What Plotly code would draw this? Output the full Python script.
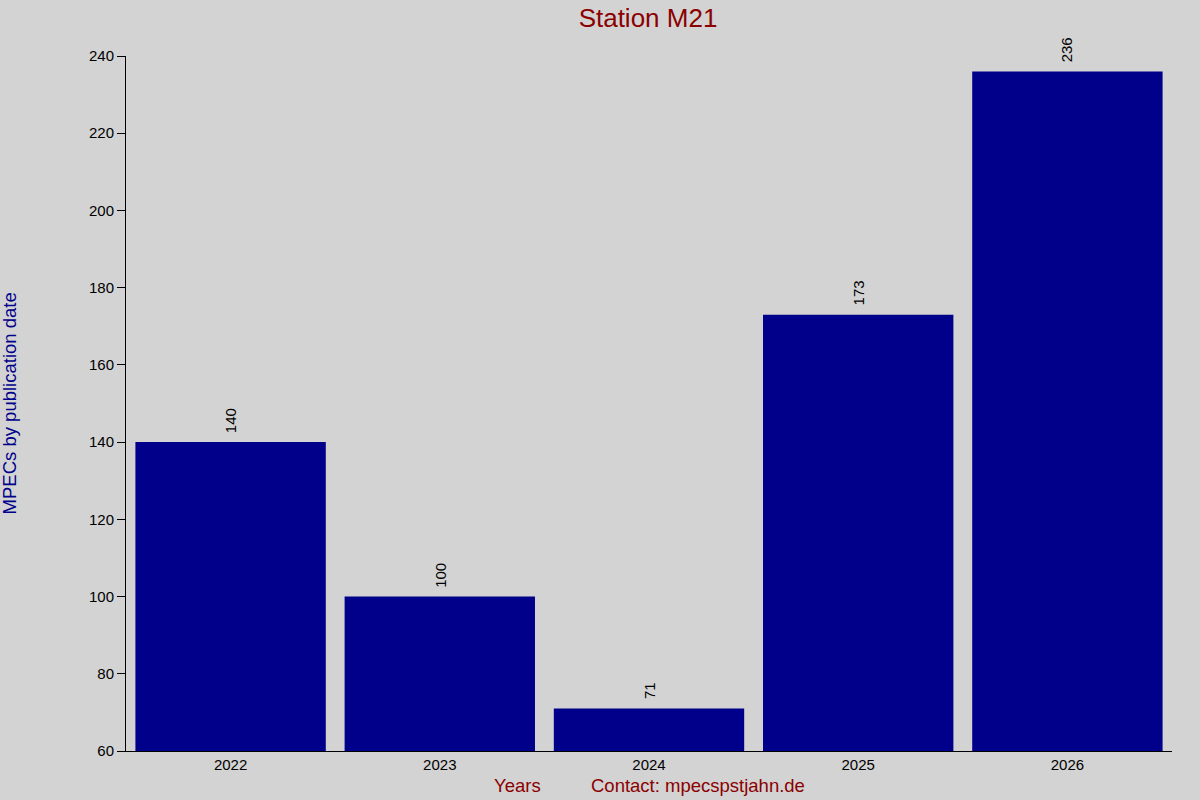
import plotly.graph_objects as go

# data
years = ["2022", "2023", "2024", "2025", "2026"]
mpecs = [140, 100, 71, 173, 236]
y_ticks = [60, 80, 100, 120, 140, 160, 180, 200, 220, 240]

font_family = "Liberation Sans, Arial, sans-serif"

fig = go.Figure()
fig.add_trace(go.Bar(
    x=years, y=mpecs,
    marker=dict(color="#00008b", line=dict(width=0)),
    width=0.91,
    showlegend=False,
))

# value labels above the bars, rotated
# (numeric-looking categories: position annotations by category index)
for i, v in enumerate(mpecs):
    fig.add_annotation(x=i, y=v, text=str(v), textangle=-90, showarrow=False,
                       xanchor="center", yanchor="bottom", yshift=7,
                       font=dict(size=15, color="#000000", family=font_family))

fig.update_layout(
    width=1200, height=800,
    paper_bgcolor="#d3d3d3",
    plot_bgcolor="#d3d3d3",
    margin=dict(l=126, r=28, t=56, b=49),
    font=dict(family=font_family, size=15, color="#000000"),
    title=dict(text="Station M21", x=0.54, xanchor="center", y=0.9775, yanchor="middle",
               font=dict(size=26, color="#8b0000", family=font_family)),
    xaxis=dict(type="category", range=[-0.5, 4.5], showgrid=False, zeroline=False,
               showline=True, linecolor="#000000", linewidth=1,
               ticks="", tickfont=dict(size=15)),
    yaxis=dict(range=[60, 240], tickvals=y_ticks, showgrid=False, zeroline=False,
               showline=True, linecolor="#000000", linewidth=1,
               ticks="outside", ticklen=8, tickcolor="#000000",
               tickfont=dict(size=15)),
)

fig.add_annotation(text="MPECs by publication date", textangle=-90,
                   xref="paper", yref="paper", x=-0.111, y=0.5, xanchor="center", yanchor="middle",
                   showarrow=False, font=dict(size=18.5, color="#00008b", family=font_family))
fig.add_annotation(text="Years", xref="paper", yref="paper", x=0.374, y=-0.05,
                   xanchor="center", yanchor="middle", showarrow=False,
                   font=dict(size=18.5, color="#8b0000", family=font_family))
fig.add_annotation(text="Contact: mpecspstjahn.de", xref="paper", yref="paper", x=0.547, y=-0.05,
                   xanchor="center", yanchor="middle", showarrow=False,
                   font=dict(size=18.5, color="#8b0000", family=font_family))

# page body margin would shift the fixed-size figure
fig.write_html("out.html", config={"displayModeBar": False},
               post_script="document.body.style.margin='0';")
